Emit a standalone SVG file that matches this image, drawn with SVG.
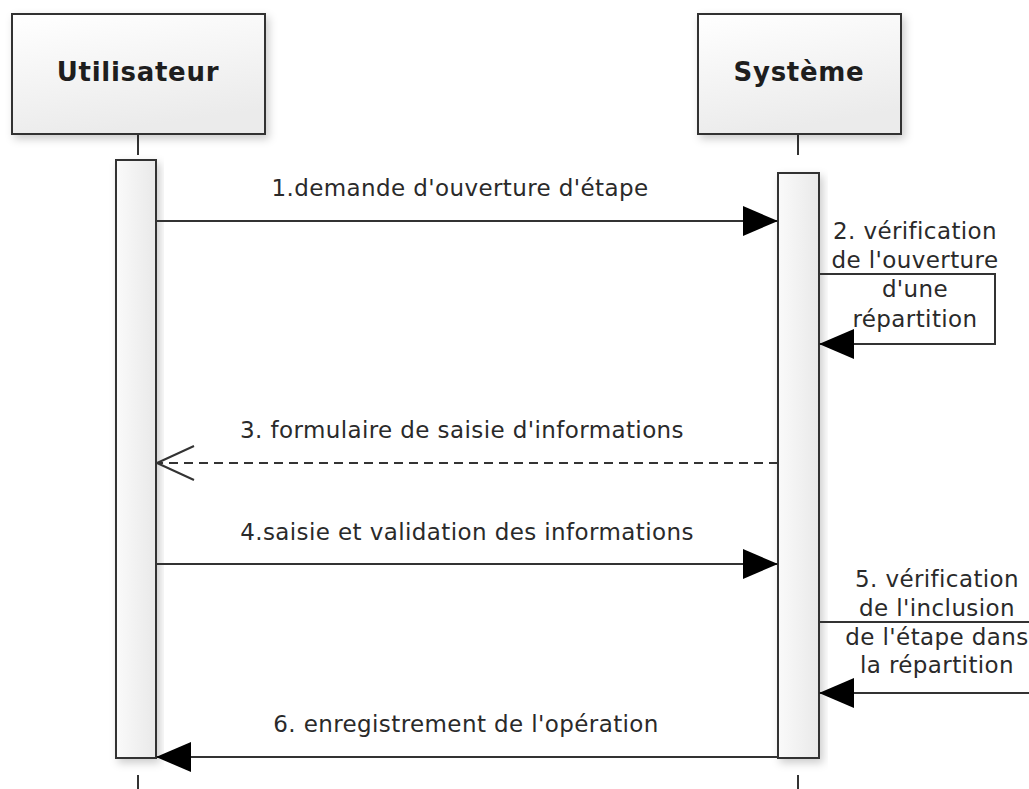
<svg xmlns="http://www.w3.org/2000/svg" width="1029" height="789" viewBox="0 0 1029 789">
  <style>
    .box { stroke: #333; stroke-width: 2; }
    .hdr { fill: url(#gHdr); }
    .act { fill: url(#gAct); }
    .life { stroke: #333; stroke-width: 2; fill: none; }
    .msg { stroke: #333; stroke-width: 2; fill: none; }
    .dash { stroke-dasharray: 9 6; }
    .title { font-family: "DejaVu Sans", Verdana, sans-serif; font-weight: bold; font-size: 26px; fill: #1e1e1e; text-anchor: middle; letter-spacing: 0.7px; }
    .lbl { font-family: "DejaVu Sans", Verdana, sans-serif; font-size: 23px; fill: #2a2a2a; text-anchor: middle; letter-spacing: 0.4px; }
  </style>
  <defs>
    <linearGradient id="gHdr" x1="0" y1="0" x2="0.3" y2="1">
      <stop offset="0" stop-color="#ffffff"/>
      <stop offset="1" stop-color="#ebebeb"/>
    </linearGradient>
    <linearGradient id="gAct" x1="0" y1="0" x2="1" y2="0">
      <stop offset="0" stop-color="#fafafa"/>
      <stop offset="1" stop-color="#e9e9e9"/>
    </linearGradient>
    <filter id="shadow" x="-20%" y="-20%" width="140%" height="140%">
      <feDropShadow dx="3" dy="4" stdDeviation="4" flood-color="#000" flood-opacity="0.2"/>
    </filter>
    <marker id="filled" markerUnits="userSpaceOnUse" markerWidth="36" markerHeight="31" refX="35" refY="15" orient="auto">
      <path d="M0,0 L35,15 L0,30 z" fill="#000"/>
    </marker>
    <marker id="open" markerUnits="userSpaceOnUse" markerWidth="40" markerHeight="38" refX="38" refY="18" orient="auto">
      <path d="M1,1 L38,18 L1,35" fill="none" stroke="#333" stroke-width="2"/>
    </marker>
  </defs>
  <rect width="1029" height="789" fill="#fff"/>

  <g id="lifelines">
    <line class="life" x1="138" y1="134" x2="138" y2="155"/>
    <line class="life" x1="138" y1="775" x2="138" y2="789"/>
    <line class="life" x1="798" y1="134" x2="798" y2="155"/>
    <line class="life" x1="798" y1="775" x2="798" y2="789"/>
  </g>

  <g id="utilisateur">
    <rect class="box hdr" x="12" y="14" width="253" height="120" filter="url(#shadow)"/>
    <text class="title" x="138" y="81">Utilisateur</text>
  </g>
  <g id="systeme">
    <rect class="box hdr" x="698" y="14" width="203" height="120" filter="url(#shadow)"/>
    <text class="title" x="799" y="81">Système</text>
  </g>

  <g id="activation-utilisateur">
    <rect class="box act" x="116" y="160" width="40" height="598" filter="url(#shadow)"/>
  </g>
  <g id="activation-systeme">
    <rect class="box act" x="778" y="173" width="41" height="585" filter="url(#shadow)"/>
  </g>

  <g id="connectors">
    <line class="msg" x1="156" y1="221" x2="778" y2="221" marker-end="url(#filled)"/>
    <path class="msg" d="M819,274 H995 V344 H819" marker-end="url(#filled)"/>
    <line class="msg dash" x1="778" y1="463" x2="157" y2="463" marker-end="url(#open)"/>
    <line class="msg" x1="156" y1="564" x2="778" y2="564" marker-end="url(#filled)"/>
    <path class="msg" d="M819,622 H1045 V693 H819" marker-end="url(#filled)"/>
    <line class="msg" x1="778" y1="757" x2="156" y2="757" marker-end="url(#filled)"/>
  </g>

  <g id="labels">
    <text class="lbl" x="460" y="196">1.demande d'ouverture d'étape</text>
    <text class="lbl" x="915" y="239">2. vérification</text>
    <text class="lbl" x="915" y="268">de l'ouverture</text>
    <text class="lbl" x="915" y="297">d'une</text>
    <text class="lbl" x="915" y="327">répartition</text>
    <text class="lbl" x="462" y="438">3. formulaire de saisie d'informations</text>
    <text class="lbl" x="467" y="540">4.saisie et validation des informations</text>
    <text class="lbl" x="937" y="587">5. vérification</text>
    <text class="lbl" x="937" y="616">de l'inclusion</text>
    <text class="lbl" x="937" y="645">de l'étape dans</text>
    <text class="lbl" x="937" y="673">la répartition</text>
    <text class="lbl" x="466" y="732">6. enregistrement de l'opération</text>
  </g>
</svg>
